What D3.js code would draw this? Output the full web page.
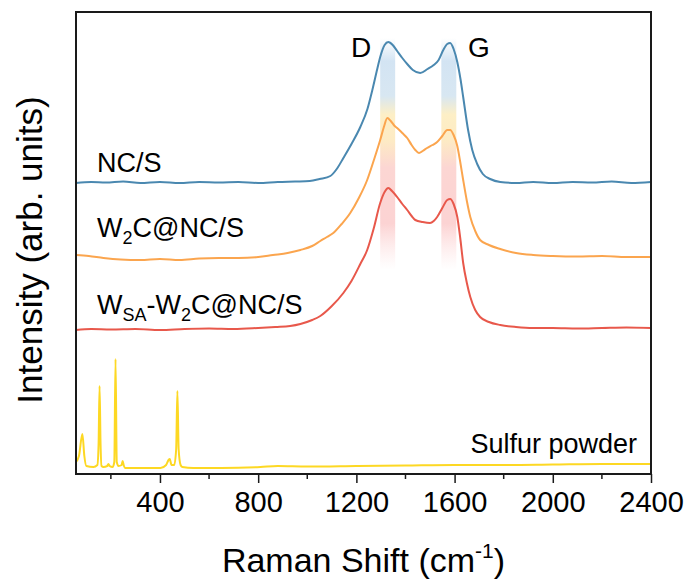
<!DOCTYPE html>
<html>
<head>
<meta charset="utf-8">
<script src="https://cdn.jsdelivr.net/npm/d3@7"></script>
<style>
  html, body { margin: 0; padding: 0; background: #fff; }
  svg { display: block; font-family: "Liberation Sans", Arial, sans-serif; }
</style>
</head>
<body>
<svg id="chart" width="693" height="584"></svg>
<script>
// Raman spectra, [shift (cm-1), offset intensity (a.u.)]
var ncs = [[58,291],[120,292],[180,291.5],[250,292.5],[320,291],[400,292],[480,291],[560,292],[640,291.5],[720,292],[800,291],[880,292],[950,292.5],[1010,293],[1050,295],[1094,298],[1120,305],[1147,316],[1180,330],[1216,347],[1245,365],[1265,384],[1285,405],[1297,417],[1315,429],[1330,432],[1348,429],[1366,423],[1387,416],[1407,410],[1430,404],[1460,401],[1490,405],[1515,409],[1535,414],[1554,424],[1570,430],[1582,431],[1596,425],[1611,412],[1624,395],[1635,377],[1655,344],[1672,324],[1692,310],[1715,300],[1745,295],[1786,292],[1850,291],[1920,292],[2000,291],[2080,292],[2160,291.5],[2240,292.5],[2320,291],[2400,292]];

var w2c = [[58,219],[110,218],[170,216],[240,214.5],[320,214],[400,215],[480,214],[560,215.5],[640,216],[720,216],[800,217],[860,219],[920,221],[972,224],[1020,228],[1053,233],[1080,237],[1106,241],[1140,250],[1175,261],[1210,276],[1244,294],[1270,313],[1297,334],[1312,347],[1326,356],[1340,353],[1356,348],[1366,346],[1387,341],[1407,336],[1425,329],[1440,324],[1455,321],[1470,323],[1488,326],[1510,329],[1529,332],[1550,338],[1570,344],[1582,344],[1596,339],[1611,328],[1623,312],[1635,294],[1650,273],[1664,257],[1684,243],[1704,234],[1740,229],[1786,225],[1850,221],[1920,219],[2000,218],[2100,217.5],[2200,218],[2300,217],[2400,217]];

var wsa = [[58,144],[120,145],[200,144.5],[300,145],[400,144],[500,145],[600,145.5],[700,145],[800,146],[870,147],[930,148],[972,150],[1020,154],[1053,158],[1100,168],[1147,181],[1180,193],[1216,210],[1244,224],[1270,245],[1297,271],[1315,282],[1330,286],[1345,283],[1366,277],[1387,270],[1407,264],[1425,258],[1440,254],[1470,252],[1500,251],[1515,253],[1529,257],[1550,266],[1570,274],[1582,275],[1596,270],[1611,257],[1623,236],[1635,211],[1650,191],[1664,177],[1684,164],[1704,157],[1740,152],[1786,149],[1850,147],[1920,146],[2000,146],[2100,145.5],[2200,146],[2300,146.5],[2400,146]];

var sulfur = [[58,12],[70,18],[84,40],[92,18],[100,8],[129,7],[145,9],[150,30],[154,88],[158,30],[162,8],[170,7],[185,8],[190,10],[195,8],[207,7],[214,12],[219,115],[224,12],[231,8],[244,9],[248,13],[252,9],[259,6],[330,6],[402,6],[425,9],[435,14],[440,15],[447,9],[458,9],[466,25],[471,83],[476,25],[484,9],[491,7],[536,6],[650,6],[809,7],[880,8],[1000,7.5],[1200,8],[1400,8.5],[1600,9],[1800,9],[2000,9.5],[2200,10],[2400,10]];

var xTicks = [400, 800, 1200, 1600, 2000, 2400];
var xMinor = [200, 600, 1000, 1400, 1800, 2200];
// highlighted D and G band ranges
var bands = [[1297, 1358], [1546, 1607]];

var color = {
  ncs: '#4a88b0',
  w2c: '#fba54e',
  wsa: '#e8584b',
  sulfur: '#fdd823',
  frame: '#1a1a1a'
};

function draw() {
  var svg = d3.select('#chart');
  var mLeft = 76, mRight = 651, mTop = 12, mBottom = 474;

  var x = d3.scaleLinear().domain([58, 2400]).range([mLeft, mRight]);
  var y = d3.scaleLinear().domain([0, 462]).range([mBottom, mTop]);

  // gradient for the D/G highlight bands
  var defs = svg.append('defs');
  var grad = defs.append('linearGradient').attr('id', 'band').attr('x1', 0).attr('y1', 0).attr('x2', 0).attr('y2', 1);
  [[0, '#d6e6f4', 0], [0.1, '#d3e4f3', 1], [0.25, '#d8e7f2', 1], [0.33, '#fdefc6', 1], [0.44, '#fdebc4', 1],
   [0.56, '#fcd6d3', 1], [0.8, '#fcd3d3', 1], [1, '#fde3e3', 0]].forEach(function(s) {
    grad.append('stop').attr('offset', s[0]).attr('stop-color', s[1]).attr('stop-opacity', s[2]);
  });

  svg.selectAll('rect.band').data(bands).enter().append('rect')
    .attr('class', 'band')
    .attr('x', function(d) { return x(d[0]); })
    .attr('width', function(d) { return x(d[1]) - x(d[0]); })
    .attr('y', y(436))
    .attr('height', y(204) - y(436))
    .attr('fill', 'url(#band)');

  var line = d3.line()
    .x(function(d) { return x(d[0]); })
    .y(function(d) { return y(d[1]); })
    .curve(d3.curveMonotoneX);

  [[sulfur, color.sulfur], [wsa, color.wsa], [w2c, color.w2c], [ncs, color.ncs]].forEach(function(s) {
    svg.append('path').datum(s[0])
      .attr('d', line)
      .attr('fill', 'none')
      .attr('stroke', s[1])
      .attr('stroke-width', 2)
      .attr('stroke-linejoin', 'round');
  });

  // axis with major and minor ticks
  var axis = svg.append('g').attr('transform', 'translate(0,' + mBottom + ')');
  axis.call(d3.axisBottom(x).tickValues(xTicks).tickFormat(d3.format('d')).tickSize(9).tickSizeOuter(0).tickPadding(8));
  axis.select('.domain').remove();
  axis.selectAll('.tick line').attr('stroke', color.frame).attr('stroke-width', 1.5);
  axis.selectAll('.tick text').attr('font-size', 29).attr('fill', '#000').attr('font-family', '"Liberation Sans", Arial, sans-serif');

  axis.selectAll('line.minor').data(xMinor).enter().append('line')
    .attr('class', 'minor')
    .attr('x1', function(d) { return x(d); }).attr('x2', function(d) { return x(d); })
    .attr('y1', 0).attr('y2', 5)
    .attr('stroke', color.frame).attr('stroke-width', 1.5);

  // frame
  svg.append('rect')
    .attr('x', mLeft).attr('y', mTop)
    .attr('width', mRight - mLeft).attr('height', mBottom - mTop)
    .attr('fill', 'none').attr('stroke', color.frame).attr('stroke-width', 2);

  // axis titles
  var xt = svg.append('text').attr('x', (mLeft + mRight) / 2).attr('y', 572)
    .attr('text-anchor', 'middle').attr('font-size', 34);
  xt.append('tspan').text('Raman Shift (cm');
  xt.append('tspan').attr('font-size', 21).attr('dy', -14).text('-1');
  xt.append('tspan').attr('dy', 14).text(')');

  svg.append('text')
    .attr('transform', 'translate(42,250) rotate(-90)')
    .attr('text-anchor', 'middle').attr('font-size', 35)
    .text('Intensity (arb. units)');

  // series labels
  svg.append('text').attr('x', x(144)).attr('y', 172).attr('font-size', 27).text('NC/S');

  var t2 = svg.append('text').attr('x', x(144)).attr('y', 237).attr('font-size', 27);
  t2.append('tspan').text('W');
  t2.append('tspan').attr('font-size', 18).attr('dy', 7).text('2');
  t2.append('tspan').attr('dy', -7).text('C@NC/S');

  var t3 = svg.append('text').attr('x', x(144)).attr('y', 314).attr('font-size', 27);
  t3.append('tspan').text('W');
  t3.append('tspan').attr('font-size', 18).attr('dy', 7).text('SA');
  t3.append('tspan').attr('dy', -7).text('-W');
  t3.append('tspan').attr('font-size', 18).attr('dy', 7).text('2');
  t3.append('tspan').attr('dy', -7).text('C@NC/S');

  svg.append('text').attr('x', 637).attr('y', 453).attr('text-anchor', 'end')
    .attr('font-size', 27).text('Sulfur powder');

  svg.append('text').attr('x', 361).attr('y', 57).attr('text-anchor', 'middle').attr('font-size', 28).text('D');
  svg.append('text').attr('x', 479).attr('y', 57).attr('text-anchor', 'middle').attr('font-size', 28).text('G');
}

draw();
</script>
</body>
</html>
